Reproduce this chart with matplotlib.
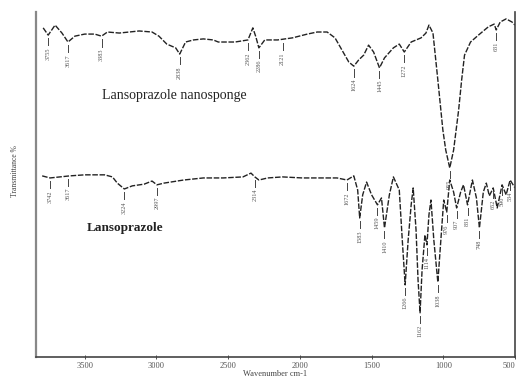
import matplotlib
matplotlib.use("Agg")
from matplotlib import pyplot as plt
import numpy as np

# Lansoprazole nanosponge (upper trace)
wn_ns = [3790, 3755, 3707, 3659, 3617, 3569, 3500, 3431, 3383, 3342, 3259, 3190,
         3121, 3031, 2983, 2928, 2866, 2838, 2797, 2742, 2673, 2604, 2569, 2452,
         2362, 2328, 2307, 2286, 2245, 2155, 2052, 1948, 1879, 1810, 1755, 1707,
         1659, 1624, 1590, 1555, 1521, 1486, 1445, 1410, 1348, 1307, 1272, 1224,
         1155, 1121, 1100, 1072, 1038, 1003, 983, 955, 928, 893, 872, 852, 810,
         755, 686, 645, 631, 603, 562, 521, 500]
t_ns = [95.4, 93.3, 96.2, 93.9, 91.3, 93.0, 93.6, 93.6, 93.0, 94.2, 93.9, 94.2,
        94.5, 94.2, 93.0, 90.7, 89.6, 87.8, 91.3, 91.9, 92.2, 91.9, 91.3, 91.3,
        91.9, 95.4, 92.8, 89.6, 91.9, 91.9, 92.5, 93.6, 94.2, 94.2, 92.5, 89.0,
        85.5, 84.3, 86.1, 87.5, 90.4, 88.4, 83.8, 86.7, 89.6, 90.7, 88.4, 91.3,
        92.5, 93.9, 96.2, 93.9, 80.3, 65.8, 60.0, 54.8, 60.0, 71.6, 80.3, 87.5,
        91.3, 93.3, 95.7, 96.5, 94.8, 97.1, 98.0, 97.1, 96.2]

# Lansoprazole (lower trace)
wn_lz = [3797, 3742, 3673, 3604, 3500, 3362, 3307, 3273, 3224, 3169, 3086, 3031,
         2997, 2948, 2810, 2673, 2535, 2397, 2341, 2314, 2286, 2224, 2121, 1983,
         1845, 1741, 1672, 1624, 1597, 1583, 1562, 1535, 1500, 1459, 1431, 1410,
         1376, 1348, 1307, 1286, 1266, 1245, 1224, 1210, 1190, 1176, 1162, 1148,
         1128, 1114, 1100, 1086, 1066, 1038, 1017, 997, 976, 955, 928, 907, 879,
         859, 831, 797, 769, 748, 721, 700, 679, 652, 624, 590, 562, 534, 500]
t_lz = [52.5, 51.9, 52.2, 52.5, 52.8, 52.8, 52.2, 50.4, 48.7, 49.6, 50.1, 51.0,
        49.9, 50.4, 51.3, 51.9, 51.9, 52.2, 53.3, 52.2, 51.3, 51.9, 52.2, 51.9,
        51.9, 51.9, 51.3, 52.5, 48.4, 40.3, 47.0, 50.7, 47.0, 44.1, 46.1, 37.4,
        47.0, 52.2, 48.4, 33.9, 20.9, 33.9, 44.1, 49.0, 36.8, 22.3, 12.8, 25.2,
        35.4, 32.5, 41.2, 45.5, 33.9, 21.7, 33.9, 45.5, 42.0, 51.3, 47.8, 43.2,
        47.8, 49.9, 44.1, 51.3, 46.1, 37.4, 47.8, 50.4, 46.7, 49.0, 43.2, 49.9,
        47.0, 51.3, 49.0]

# marked bands (wavenumber, transmittance at the band)
peaks_ns = [3755, 3617, 3383, 2838, 2362, 2286, 2121, 1624, 1445, 1272, 955, 631]
peaks_ns_t = [93.3, 91.3, 93.0, 87.8, 91.9, 89.6, 91.9, 84.3, 83.8, 88.4, 54.8, 94.8]
peaks_lz = [3742, 3617, 3224, 2997, 2314, 1672, 1583, 1459, 1410, 1266, 1162,
            1114, 1038, 976, 907, 831, 748, 652, 590, 534]
peaks_lz_t = [51.9, 52.5, 48.7, 49.9, 52.2, 51.3, 40.3, 44.1, 37.4, 20.9, 12.8,
              32.5, 21.7, 42.0, 43.2, 44.1, 37.4, 49.0, 49.9, 51.3]

xticks = [3500, 3000, 2500, 2000, 1500, 1000, 500]

plt.rcParams['font.family'] = ['Liberation Serif', 'DejaVu Serif']

fig = plt.figure(figsize=(5.2, 3.78), dpi=100)
ax = fig.add_axes([36/520, 21/378, 479/520, 345/378])

ls = (0, (4, 1.2))
ax.plot(wn_ns, t_ns, color='#222222', lw=1.0, ls=ls)
ax.plot(wn_lz, t_lz, color='#222222', lw=1.0, ls=ls)

for wn, t in zip(peaks_ns + peaks_lz, peaks_ns_t + peaks_lz_t):
    ax.plot([wn, wn], [t - 0.8, t - 3.0], color='#444444', lw=0.7)
    ax.text(wn, t - 3.5, str(wn), rotation=90, ha='center', va='top',
            fontsize=4.5, color='#555555')

ax.text(2879, 75.9, 'Lansoprazole nanosponge', ha='center', va='center',
        fontsize=10, color='#222222')
ax.text(3217, 37.4, 'Lansoprazole', ha='center', va='center',
        fontsize=9.5, color='#222222', fontweight='bold')

ax.set_xlim(3840, 500)
ax.set_ylim(0, 100)
ax.set_xticks(xticks)
ax.set_xticklabels([str(v) for v in xticks], fontsize=6)
ax.get_xticklabels()[-1].set_horizontalalignment('right')
ax.tick_params(axis='x', direction='inout', length=3, width=0.6, pad=2,
               colors='#333333', labelcolor='#555555')
ax.set_yticks([])
ax.set_xlabel('Wavenumber cm-1', fontsize=6, color='#444444', labelpad=0)
ax.set_ylabel('Transmittance %', fontsize=5.5, color='#444444')
ax.yaxis.set_label_coords(-0.035, 0.54)

ax.spines['top'].set_visible(False)
ax.spines['left'].set_color('#888888')
ax.spines['left'].set_linewidth(1.6)
ax.spines['right'].set_color('#444444')
ax.spines['right'].set_linewidth(1.2)
ax.spines['bottom'].set_color('#444444')
ax.spines['bottom'].set_linewidth(1.2)

fig.savefig('out.png', dpi=100)
